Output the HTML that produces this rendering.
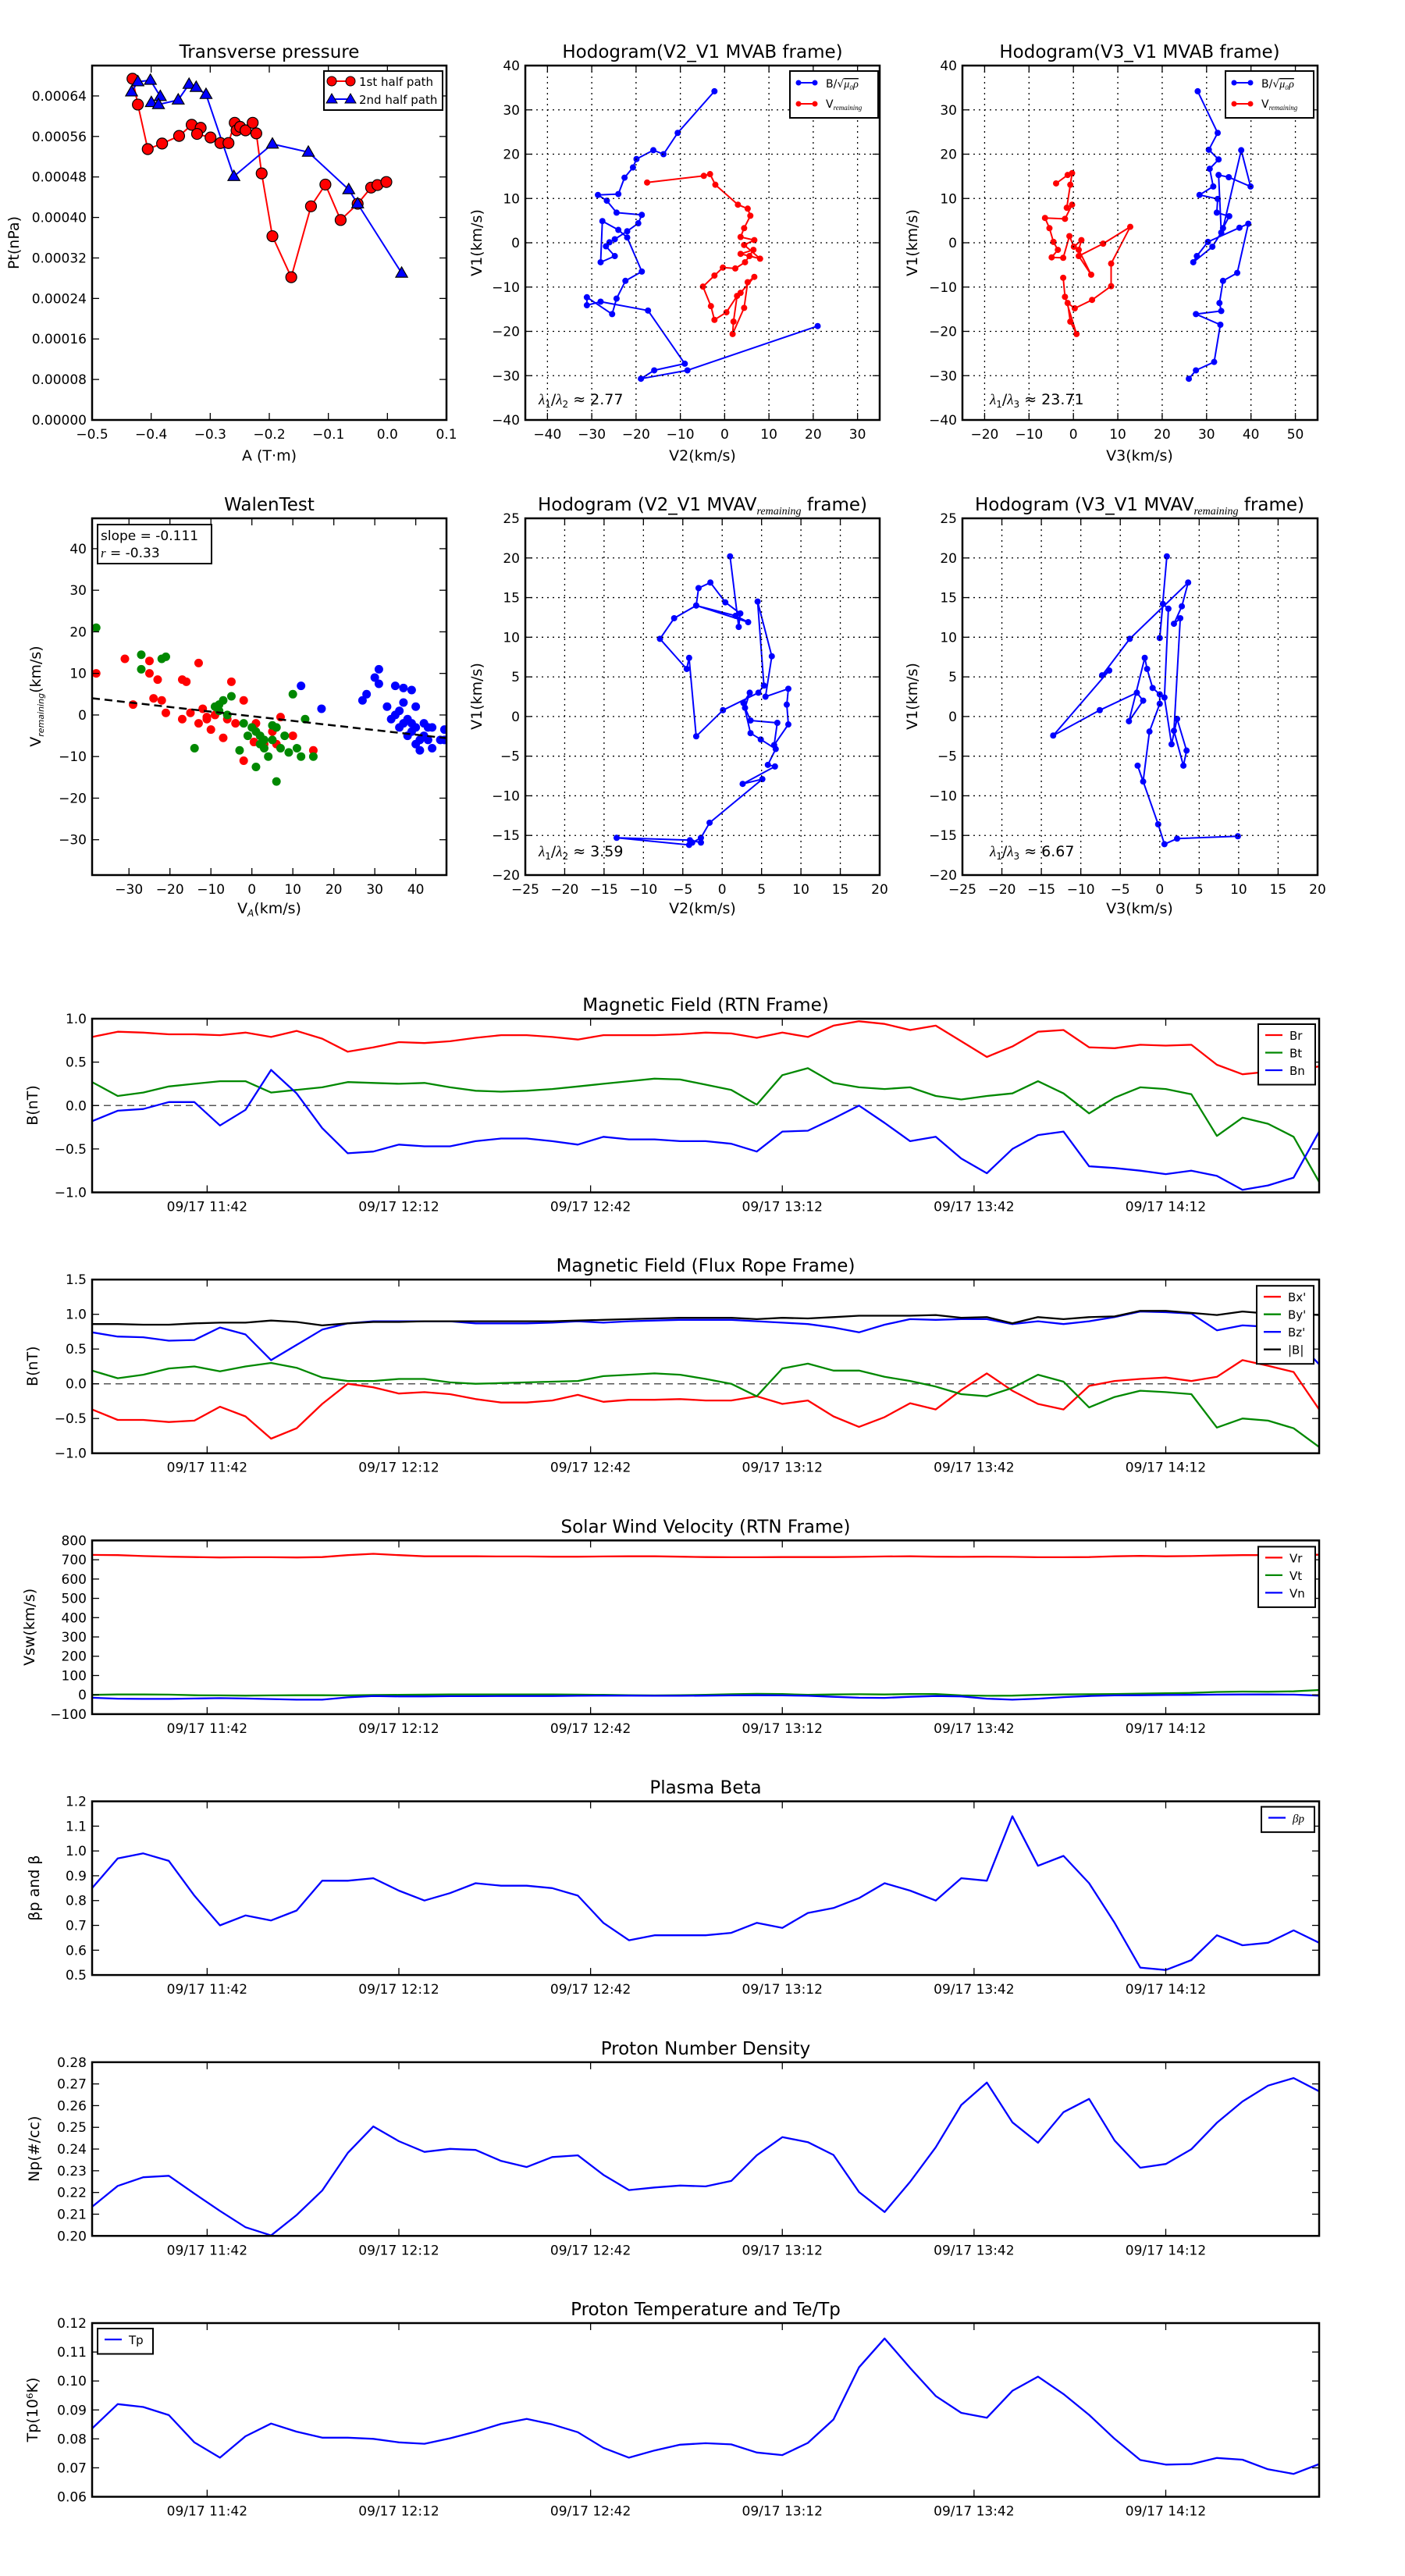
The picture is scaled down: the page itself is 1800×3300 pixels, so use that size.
<!DOCTYPE html>
<html><head><meta charset="utf-8"><title>Flux rope analysis</title>
<style>
html,body{margin:0;padding:0;background:#fff;}
svg{display:block;font-family:"DejaVu Sans","Liberation Sans",sans-serif;}
</style></head>
<body>
<svg id="fig" xmlns="http://www.w3.org/2000/svg" width="1800" height="3300" viewBox="0 0 1800 3300"></svg>
<script>
// ---------- time-series data (4-min cadence, 11:24 .. 14:36) ----------
const timeTickMinutes=[18,48,78,108,138,168];
const timeTickLabels=["09/17 11:42","09/17 12:12","09/17 12:42","09/17 13:12","09/17 13:42","09/17 14:12"];
const br=[0.79,0.85,0.84,0.82,0.82,0.81,0.84,0.79,0.86,0.77,0.62,0.67,0.73,0.72,0.74,0.78,0.81,0.81,0.79,0.76,0.81,0.81,0.81,0.82,0.84,0.83,0.78,0.84,0.79,0.92,0.97,0.94,0.87,0.92,0.74,0.56,0.68,0.85,0.87,0.67,0.66,0.70,0.69,0.70,0.47,0.36,0.39,0.41,0.45];
const bt=[0.27,0.11,0.15,0.22,0.25,0.28,0.28,0.15,0.18,0.21,0.27,0.26,0.25,0.26,0.21,0.17,0.16,0.17,0.19,0.22,0.25,0.28,0.31,0.30,0.24,0.18,0.01,0.35,0.43,0.26,0.21,0.19,0.21,0.11,0.07,0.11,0.14,0.28,0.14,-0.09,0.09,0.21,0.19,0.13,-0.35,-0.14,-0.21,-0.36,-0.88];
const bn=[-0.18,-0.06,-0.04,0.04,0.04,-0.23,-0.05,0.41,0.14,-0.26,-0.55,-0.53,-0.45,-0.47,-0.47,-0.41,-0.38,-0.38,-0.41,-0.45,-0.36,-0.39,-0.39,-0.41,-0.41,-0.44,-0.53,-0.30,-0.29,-0.15,0.0,-0.20,-0.41,-0.36,-0.61,-0.78,-0.50,-0.34,-0.30,-0.70,-0.72,-0.75,-0.79,-0.75,-0.81,-0.97,-0.92,-0.83,-0.30];
const bxp=[-0.37,-0.52,-0.52,-0.55,-0.53,-0.33,-0.47,-0.79,-0.64,-0.29,0.0,-0.05,-0.14,-0.12,-0.15,-0.22,-0.27,-0.27,-0.24,-0.16,-0.26,-0.23,-0.23,-0.22,-0.24,-0.24,-0.18,-0.29,-0.24,-0.47,-0.62,-0.48,-0.28,-0.37,-0.09,0.15,-0.10,-0.29,-0.37,-0.03,0.04,0.07,0.09,0.04,0.10,0.34,0.26,0.17,-0.37];
const byp=[0.19,0.08,0.13,0.22,0.25,0.18,0.25,0.30,0.23,0.09,0.04,0.04,0.07,0.07,0.02,0.0,0.01,0.02,0.03,0.04,0.11,0.13,0.15,0.13,0.07,0.0,-0.18,0.22,0.29,0.19,0.19,0.10,0.04,-0.04,-0.15,-0.18,-0.06,0.13,0.03,-0.34,-0.19,-0.10,-0.12,-0.15,-0.63,-0.50,-0.53,-0.64,-0.91];
const bzp=[0.74,0.68,0.67,0.62,0.63,0.81,0.71,0.34,0.56,0.78,0.87,0.90,0.90,0.90,0.90,0.87,0.87,0.87,0.88,0.90,0.88,0.90,0.91,0.92,0.92,0.92,0.90,0.88,0.86,0.81,0.74,0.85,0.93,0.92,0.93,0.93,0.86,0.90,0.86,0.90,0.96,1.04,1.03,1.01,0.77,0.84,0.82,0.67,0.28];
const bmag=[0.86,0.86,0.85,0.85,0.87,0.88,0.88,0.91,0.89,0.84,0.87,0.89,0.89,0.90,0.90,0.90,0.90,0.90,0.90,0.91,0.92,0.93,0.94,0.95,0.95,0.95,0.93,0.95,0.94,0.96,0.98,0.98,0.98,0.99,0.95,0.96,0.87,0.96,0.93,0.96,0.97,1.05,1.05,1.02,0.99,1.04,1.01,1.01,0.99];
const vr=[725,724,719,716,714,712,713,713,712,714,724,731,724,718,718,718,717,717,716,716,717,718,718,716,714,713,713,714,714,714,715,717,718,716,715,716,715,713,713,714,718,720,718,719,722,724,724,724,726];
const vt=[0,2,2,1,-2,-3,-4,-3,-2,-2,-3,-1,0,1,2,2,2,2,2,1,0,-2,-3,-2,0,3,5,4,0,2,3,2,4,4,-3,-5,-4,0,2,3,4,6,8,10,15,17,16,18,25];
const vn=[-15,-20,-21,-21,-19,-17,-19,-22,-25,-25,-13,-6,-8,-8,-7,-7,-6,-6,-6,-5,-4,-4,-5,-5,-4,-3,-2,-3,-5,-10,-15,-16,-10,-6,-8,-20,-25,-20,-12,-6,-3,-2,-1,0,1,2,2,1,-4];
const beta=[0.85,0.97,0.99,0.96,0.82,0.70,0.74,0.72,0.76,0.88,0.88,0.89,0.84,0.80,0.83,0.87,0.86,0.86,0.85,0.82,0.71,0.64,0.66,0.66,0.66,0.67,0.71,0.69,0.75,0.77,0.81,0.87,0.84,0.80,0.89,0.88,1.14,0.94,0.98,0.87,0.71,0.53,0.52,0.56,0.66,0.62,0.63,0.68,0.63];
const npd=[0.2134,0.223,0.227,0.2277,0.2195,0.2115,0.204,0.2002,0.2096,0.2209,0.2382,0.2504,0.2436,0.2387,0.2401,0.2396,0.2345,0.2317,0.2363,0.2371,0.2281,0.2211,0.2223,0.2232,0.2228,0.2253,0.2371,0.2455,0.2432,0.2373,0.2202,0.2110,0.2249,0.2408,0.2603,0.2706,0.2523,0.2429,0.2570,0.2631,0.2439,0.2314,0.2331,0.2399,0.2521,0.2619,0.2692,0.2727,0.2666];
const tp=[0.0836,0.092,0.091,0.0882,0.0788,0.0735,0.0809,0.0853,0.0825,0.0804,0.0804,0.080,0.0788,0.0783,0.0802,0.0825,0.0852,0.0869,0.085,0.0823,0.0769,0.0735,0.076,0.078,0.0785,0.0781,0.0753,0.0744,0.0786,0.0867,0.1047,0.1147,0.1045,0.0948,0.089,0.0873,0.0966,0.1015,0.0955,0.0883,0.080,0.0727,0.0711,0.0713,0.0734,0.0728,0.0695,0.0679,0.0713];

// ---------- scatter / hodogram data ----------
const ptRedA=[-0.4316,-0.4225,-0.4058,-0.3815,-0.3527,-0.3314,-0.3162,-0.3223,-0.2995,-0.2828,-0.2691,-0.2585,-0.2554,-0.2494,-0.2402,-0.2281,-0.222,-0.2129,-0.1947,-0.1628,-0.1294,-0.105,-0.0792,-0.0504,-0.0276,-0.0169,-0.0018];
const ptRedP=[0.000674,0.000623,0.000535,0.000546,0.000561,0.000583,0.000577,0.000565,0.000558,0.000547,0.000547,0.000587,0.000572,0.000579,0.000572,0.000587,0.000566,0.000487,0.000363,0.000282,0.000422,0.000465,0.000395,0.000427,0.000459,0.000464,0.00047];
const ptBlueA=[-0.4332,-0.4225,-0.4013,-0.3845,-0.3997,-0.3876,-0.3542,-0.3359,-0.3238,-0.3071,-0.26,-0.1947,-0.1339,-0.0655,-0.0504,0.0241];
const ptBlueP=[0.000648,0.000668,0.000671,0.000639,0.000627,0.000623,0.000632,0.000663,0.000657,0.000643,0.000481,0.000545,0.000529,0.000455,0.000427,0.000290];

const h2BlueX=[-2.3,-10.6,-13.8,-16.1,-19.9,-20.7,-22.6,-24.0,-28.6,-26.6,-24.4,-18.7,-19.5,-22.0,-24.8,-26.0,-26.8,-24.8,-28.0,-27.6,-24.0,-22.0,-18.7,-22.4,-24.4,-25.4,-31.1,-31.1,-28.0,-17.3,-9.0,-15.9,-18.9,-8.4,21.0];
const h2BlueY=[34.2,24.8,20.0,20.9,18.9,17.0,14.7,11.0,10.8,9.5,6.8,6.3,4.4,2.6,0.8,0.1,-0.8,-3.0,-4.4,4.9,2.9,1.2,-6.5,-8.6,-12.6,-16.1,-12.3,-14.1,-13.3,-15.3,-27.3,-28.8,-30.7,-28.8,-18.8];
const h2RedX=[-17.5,-4.7,-3.3,-2.1,3.0,5.2,5.8,4.4,3.6,6.7,4.4,8.0,5.6,3.6,6.5,4.6,2.4,-0.4,-2.3,-4.9,-3.1,-2.3,0.4,2.8,2.0,1.8,4.4,5.2,6.7,3.6];
const h2RedY=[13.6,15.1,15.5,13.1,8.6,7.7,6.1,3.3,1.3,0.6,-0.5,-3.6,-3.0,-2.5,-1.6,-4.4,-5.8,-5.6,-7.4,-9.9,-14.3,-17.4,-15.7,-12.0,-17.8,-20.6,-14.7,-8.9,-7.7,-11.3];

const h3BlueX=[28.0,32.5,30.5,32.7,30.7,31.5,28.4,32.5,32.3,35.1,33.7,37.8,39.9,35.0,32.7,33.3,31.3,27.0,27.8,30.3,37.4,39.4,36.9,33.7,32.9,33.3,27.6,33.1,31.7,27.6,26.0];
const h3BlueY=[34.2,24.8,21.0,18.8,16.7,12.7,10.8,9.9,6.8,6.0,3.3,20.9,12.7,14.8,15.3,2.3,-0.9,-4.4,-3.0,0.2,3.4,4.3,-6.8,-8.6,-13.6,-15.4,-16.1,-18.5,-26.9,-28.8,-30.7];
const h3RedX=[-3.9,-1.3,-0.3,-0.7,-1.5,-0.3,-1.9,-6.4,-5.4,-4.5,-3.5,-4.9,-2.3,-0.9,0.1,1.8,1.2,4.0,1.2,6.7,12.8,8.5,8.5,4.2,0.3,-1.3,-0.7,0.7,-1.9,-2.3];
const h3RedY=[13.4,15.3,15.7,13.1,7.9,8.6,5.4,5.6,3.3,0.2,-1.6,-3.3,-3.4,1.5,-0.9,0.6,-1.6,-7.2,-3.0,-0.2,3.6,-4.7,-9.8,-12.9,-14.8,-13.6,-17.8,-20.6,-12.2,-7.9];

const walRedX=[-38,-31,-29,-25,-25,-23,-24,-22,-21,-17,-16,-13,-17,-15,-13,-12,-11,-10,-11,-9,-6,-5,-4,-7,-2,-2,1,3,5,6,7,10,15,0.5];
const walRedY=[10,13.5,2.5,13,10,8.5,4,3.5,0.5,8.5,8,12.5,-1,0.5,-2,1.5,-0.5,-3.5,-1,0,-1,8,-2,-5.5,3.5,-11,-2,-7,-4,-7,-0.5,-5,-8.5,-6.5];
const walGreenX=[-38,-27,-27,-22,-21,-14,-8,-9,-7,-5,-8,-6,-3,-2,0,1,2,2,3,-1,1,4,5,6,6,7,8,9,10,11,12,13,15,5,3];
const walGreenY=[21,14.5,11,13.5,14,-8,2.5,2,3.5,4.5,1,0,-8.5,-2,-3,-4,-7,-5,-6,-5,-12.5,-10,-6,-16,-3,-8,-5,-9,5,-8,-10,-1,-10,-2.5,-8];
const walBlueX=[12,17,27,28,30,31,31,33,35,35,36,37,37,37,38,38,39,39,40,40,40,41,41,42,42,43,43,44,44,46,47,47,34,36,39];
const walBlueY=[7,1.5,3.5,5,9,11,7.5,2,7,0,1,-2,6.5,3,-1,-5,-4,6,-7,2,-3,-6,-8.5,-2,-5,-6,-3,-8,-3,-6,-3.5,-6,-1,-3,-2];
const walenSlope=-0.111, walenIntercept=-0.3;

const h5X=[1.0,2.1,2.3,0.4,-1.5,-3.0,-3.3,3.3,1.7,-3.3,-6.1,-7.9,-4.5,-4.2,-3.3,0.1,4.6,5.3,4.5,6.3,5.5,8.4,8.2,8.4,6.6,7.0,3.6,2.9,3.5,2.7,3.6,4.9,6.8,5.8,6.7,2.6,5.1,-1.6,-2.7,-3.8,-4.2,-13.4,-4.1,-2.7];
const h5Y=[20.2,11.3,13.0,14.4,16.9,16.2,14.0,11.9,12.7,14.0,12.4,9.8,6.0,7.4,-2.5,0.8,3.0,3.9,14.5,7.6,2.5,3.5,1.5,-1.0,-3.6,-0.8,-0.5,1.1,3.0,1.7,-2.1,-2.9,-4.1,-6.1,-6.3,-8.5,-7.9,-13.4,-15.3,-15.9,-16.2,-15.3,-15.6,-15.9];
const h6X=[0.9,0.0,0.4,1.1,0.6,1.5,2.2,3.4,3.0,1.8,2.6,1.8,2.8,3.6,-3.8,-7.3,-6.4,-13.5,-7.6,-2.9,-2.1,-3.9,-1.9,-1.6,-0.9,0.0,0.0,-1.3,-2.1,-2.8,-0.2,0.6,2.2,9.9];
const h6Y=[20.2,9.9,14.2,13.6,2.4,-3.5,-0.3,-4.3,-6.2,-1.8,12.4,11.7,13.9,16.9,9.8,5.2,5.8,-2.4,0.8,3.0,2.0,-0.6,7.4,6.0,3.6,2.8,1.6,-1.9,-8.2,-6.2,-13.6,-16.1,-15.4,-15.1];

// ---------- helpers ----------
const NS="http://www.w3.org/2000/svg";
const svg=document.getElementById('fig');
let clipId=0;
function mk(tag,attrs,parent){const e=document.createElementNS(NS,tag);for(const k in attrs)e.setAttribute(k,attrs[k]);(parent||svg).appendChild(e);return e;}
function fmt(v,d){const s=Math.abs(v).toFixed(d);return (v<-1e-12?"\u2212":"")+s;}
function txt(x,y,s,size,anchor,parent,extra){const t=mk('text',Object.assign({x:x,y:y,'font-size':size,'text-anchor':anchor||'middle',fill:'#000'},extra||{}),parent);t.textContent=s;return t;}

function makeAxes(name,x0,y0,x1,y1,xmin,xmax,ymin,ymax){
  const g=mk('g',{});
  
  
  const id='clip'+(clipId++);
  const cp=mk('clipPath',{id:id},g);mk('rect',{x:x0,y:y0,width:x1-x0,height:y1-y0},cp);
  const plot=mk('g',{'clip-path':'url(#'+id+')'},g);
  const ax={g:g,plot:plot,x0:x0,y0:y0,x1:x1,y1:y1,
    sx:v=>x0+(v-xmin)/(xmax-xmin)*(x1-x0),
    sy:v=>y1-(v-ymin)/(ymax-ymin)*(y1-y0)};
  return ax;
}
function frame(ax){const r=mk('rect',{x:ax.x0,y:ax.y0,width:ax.x1-ax.x0,height:ax.y1-ax.y0,fill:'none',stroke:'#000','stroke-width':2.5},ax.g);
  
  }
function xTicks(ax,vals,labels,size,grid){
  vals.forEach((v,i)=>{const x=ax.sx(v);
    if(grid){mk('line',{x1:x,x2:x,y1:ax.y0,y2:ax.y1,stroke:'#000','stroke-width':1.3,'stroke-dasharray':'2,5'},ax.g);}
    mk('line',{x1:x,x2:x,y1:ax.y1,y2:ax.y1-9,stroke:'#000','stroke-width':1.3},ax.g);
    mk('line',{x1:x,x2:x,y1:ax.y0,y2:ax.y0+9,stroke:'#000','stroke-width':1.3},ax.g);
    const t=txt(x,ax.y1+24,labels[i],size,'middle',ax.g);
    
    });
}
function yTicks(ax,vals,labels,size,grid){
  vals.forEach((v,i)=>{const y=ax.sy(v);
    if(grid){mk('line',{x1:ax.x0,x2:ax.x1,y1:y,y2:y,stroke:'#000','stroke-width':1.3,'stroke-dasharray':'2,5'},ax.g);}
    mk('line',{x1:ax.x0,x2:ax.x0+9,y1:y,y2:y,stroke:'#000','stroke-width':1.3},ax.g);
    mk('line',{x1:ax.x1,x2:ax.x1-9,y1:y,y2:y,stroke:'#000','stroke-width':1.3},ax.g);
    const t=txt(ax.x0-7,y+6,labels[i],size,'end',ax.g);
    
    });
}
function line(ax,xs,ys,color,w,name){
  const d=xs.map((x,i)=>(i?'L':'M')+ax.sx(x).toFixed(1)+','+ax.sy(ys[i]).toFixed(1)).join('');
  const p=mk('path',{d:d,fill:'none',stroke:color,'stroke-width':w,'stroke-linejoin':'round'},ax.plot);
  
  
  return p;
}
function dots(ax,xs,ys,color,r,name,edge){
  xs.forEach((x,i)=>{const c=mk('circle',{cx:ax.sx(x),cy:ax.sy(ys[i]),r:r,fill:color,stroke:edge||color,'stroke-width':edge?1.2:0},ax.plot);
    
    });
}
function tris(ax,xs,ys,color,s,name){
  xs.forEach((x,i)=>{const cx=ax.sx(x),cy=ax.sy(ys[i]);
    const p=mk('polygon',{points:`${cx},${cy-s} ${cx-s*0.95},${cy+s*0.65} ${cx+s*0.95},${cy+s*0.65}`,fill:color,stroke:'#000','stroke-width':1.2},ax.plot);
    
    });
}
function title(x,y,s,name){const t=txt(x,y,s,23,'middle');return t;}
function ylab(x,y,s,name,size){const t=txt(0,0,s,size||19,'middle',svg,{transform:`translate(${x},${y}) rotate(-90)`});return t;}
function xlab(x,y,s,name){const t=txt(x,y,s,19,'middle');return t;}
function range(a,b,s){const r=[];for(let v=a;v<=b+1e-9;v+=s)r.push(+v.toFixed(6));return r;}

// ---------- Panel 1: Transverse pressure ----------
(function(){
  const ax=makeAxes('transverse-pressure-plot',118,84,572,538,-0.5,0.1,0,0.0007);
  line(ax,ptRedA,ptRedP,'#f00',2,'first-half-path-line');
  line(ax,ptBlueA,ptBlueP,'#00f',2,'second-half-path-line');
  dots(ax,ptRedA,ptRedP,'#f00',7,'first-half-point','#000');
  tris(ax,ptBlueA,ptBlueP,'#00f',8,'second-half-point');
  frame(ax);
  const xt=range(-0.5,0.1,0.1);xTicks(ax,xt,xt.map(v=>fmt(v,1)),17);
  const yt=range(0,0.00064,0.00008);yTicks(ax,yt,yt.map(v=>fmt(v,5)),17);
  title(345,74,'Transverse pressure','transverse-pressure-title');
  xlab(345,590,'A (T\u00b7m)','transverse-pressure-x-label');
  ylab(24,311,'Pt(nPa)','transverse-pressure-y-label');
  const lg=mk('g',{});
  mk('rect',{x:415,y:91,width:152,height:50,fill:'#fff',stroke:'#000','stroke-width':2},lg);
  mk('line',{x1:425,x2:449,y1:104,y2:104,stroke:'#f00','stroke-width':2},lg);
  mk('circle',{cx:425,cy:104,r:6,fill:'#f00',stroke:'#000'},lg);mk('circle',{cx:449,cy:104,r:6,fill:'#f00',stroke:'#000'},lg);
  txt(460,110,'1st half path',15,'start',lg);
  mk('line',{x1:425,x2:449,y1:127,y2:127,stroke:'#00f','stroke-width':2},lg);
  mk('polygon',{points:'425,120 418,132 432,132',fill:'#00f',stroke:'#000'},lg);mk('polygon',{points:'449,120 442,132 456,132',fill:'#00f',stroke:'#000'},lg);
  txt(460,133,'2nd half path',15,'start',lg);
})();

function hodoLegend(x,name,lab1){
  const lg=mk('g',{});
  mk('rect',{x:x,y:91,width:113,height:60,fill:'#fff',stroke:'#000','stroke-width':2},lg);
  mk('line',{x1:x+11,x2:x+32,y1:106,y2:106,stroke:'#00f','stroke-width':2},lg);
  mk('circle',{cx:x+11,cy:106,r:3.5,fill:'#00f'},lg);mk('circle',{cx:x+32,cy:106,r:3.5,fill:'#00f'},lg);
  const t1=txt(x+46,112,'B/\u221a',14,'start',lg);const s1=mk('tspan',{'font-style':'italic','font-family':'Liberation Serif, serif','text-decoration':'overline'},t1);s1.textContent='\u03bc\u2080\u03c1';
  mk('line',{x1:x+11,x2:x+32,y1:133,y2:133,stroke:'#f00','stroke-width':2},lg);
  mk('circle',{cx:x+11,cy:133,r:3.5,fill:'#f00'},lg);mk('circle',{cx:x+32,cy:133,r:3.5,fill:'#f00'},lg);
  const t2=txt(x+46,138,'V',14,'start',lg);const s2=mk('tspan',{'font-size':9,'font-style':'italic','font-family':'Liberation Serif, serif',dy:3},t2);s2.textContent='remaining';
}
function lambdaNote(x,y,a,b,val,name){
  const t=txt(x,y,'',19,'start');
  const parts=[['\u03bb','i'],[a,'s'],['/','n'],['\u03bb','i'],[b,'s'],[' \u2248 '+val,'n']];
  parts.forEach(p=>{const s=mk('tspan',{},t);s.textContent=p[0];
    if(p[1]==='i'){s.setAttribute('font-style','italic');s.setAttribute('font-family','Liberation Serif, serif');}
    if(p[1]==='s'){s.setAttribute('font-size',12);s.setAttribute('dy',4);}
    if(p[1]==='n'&&p[0]!=='/'){s.setAttribute('dy',-4);}
    if(p[0]==='/'){s.setAttribute('dy',-4);}
  });
}

// ---------- Panel 2 ----------
(function(){
  const ax=makeAxes('hodogram-v2-v1-mvab-plot',673,84,1127,538,-45,35,-40,40);
  const xt=range(-40,30,10),yt=range(-40,40,10);
  xTicks(ax,xt,xt.map(v=>fmt(v,0)),17,true);yTicks(ax,yt,yt.map(v=>fmt(v,0)),17,true);
  line(ax,h2BlueX,h2BlueY,'#00f',2,'b-hodogram-line');dots(ax,h2BlueX,h2BlueY,'#00f',4,'b-hodogram-point');
  line(ax,h2RedX,h2RedY,'#f00',2,'v-hodogram-line');dots(ax,h2RedX,h2RedY,'#f00',4,'v-hodogram-point');
  frame(ax);
  title(900,74,'Hodogram(V2_V1 MVAB frame)','hodogram-v2-mvab-title');
  xlab(900,590,'V2(km/s)','hodogram-v2-mvab-x-label');ylab(617,311,'V1(km/s)','hodogram-v2-mvab-y-label');
  hodoLegend(1012,'hodogram-v2-mvab-legend');
  lambdaNote(690,518,'1','2','2.77','eigen-ratio-v2-mvab');
})();
// ---------- Panel 3 ----------
(function(){
  const ax=makeAxes('hodogram-v3-v1-mvab-plot',1233,84,1688,538,-25,55,-40,40);
  const xt=range(-20,50,10),yt=range(-40,40,10);
  xTicks(ax,xt,xt.map(v=>fmt(v,0)),17,true);yTicks(ax,yt,yt.map(v=>fmt(v,0)),17,true);
  line(ax,h3BlueX,h3BlueY,'#00f',2,'b-hodogram-line');dots(ax,h3BlueX,h3BlueY,'#00f',4,'b-hodogram-point');
  line(ax,h3RedX,h3RedY,'#f00',2,'v-hodogram-line');dots(ax,h3RedX,h3RedY,'#f00',4,'v-hodogram-point');
  frame(ax);
  title(1460,74,'Hodogram(V3_V1 MVAB frame)','hodogram-v3-mvab-title');
  xlab(1460,590,'V3(km/s)','hodogram-v3-mvab-x-label');ylab(1175,311,'V1(km/s)','hodogram-v3-mvab-y-label');
  hodoLegend(1570,'hodogram-v3-mvab-legend');
  lambdaNote(1268,518,'1','3','23.71','eigen-ratio-v3-mvab');
})();
// ---------- Panel 4: Walen test ----------
(function(){
  const ax=makeAxes('walen-test-plot',118,664,572,1121,-39,47.5,-38.5,47.3);
  const xt=range(-30,40,10),yt=range(-30,40,10);
  xTicks(ax,xt,xt.map(v=>fmt(v,0)),17);yTicks(ax,yt,yt.map(v=>fmt(v,0)),17);
  dots(ax,walRedX,walRedY,'#f00',5.5,'walen-point-red');
  dots(ax,walGreenX,walGreenY,'#080',5.5,'walen-point-green');
  dots(ax,walBlueX,walBlueY,'#00f',5.5,'walen-point-blue');
  const fx=[-39,47.5];const fy=fx.map(v=>walenSlope*v+walenIntercept);
  const p=line(ax,fx,fy,'#000',2.5,'walen-fit-line');p.setAttribute('stroke-dasharray','10,6');
  frame(ax);
  title(345,654,'WalenTest','walen-title');
  const xl=xlab(345,1170,'V','walen-x-label');const s=mk('tspan',{'font-size':12,'font-style':'italic',dy:4},xl);s.textContent='A';const s2=mk('tspan',{dy:-4},xl);s2.textContent='(km/s)';
  const yl=ylab(52,892,'V','walen-y-label');const s3=mk('tspan',{'font-size':11,'font-style':'italic',dy:4},yl);s3.textContent='remaining';const s4=mk('tspan',{dy:-4},yl);s4.textContent='(km/s)';
  const bx=mk('g',{});
  mk('rect',{x:125,y:672,width:146,height:50,fill:'#fff',stroke:'#000','stroke-width':2},bx);
  txt(129,692,'slope = -0.111',17,'start',bx);
  const r=txt(129,714,'',17,'start',bx);const ri=mk('tspan',{'font-style':'italic','font-family':'Liberation Serif, serif'},r);ri.textContent='r';const rr=mk('tspan',{},r);rr.textContent=' = -0.33';
})();
// ---------- Panel 5 ----------
(function(){
  const ax=makeAxes('hodogram-v2-v1-mvav-plot',673,664,1127,1121,-25,20,-20,25);
  const xt=range(-25,20,5),yt=range(-20,25,5);
  xTicks(ax,xt,xt.map(v=>fmt(v,0)),17,true);yTicks(ax,yt,yt.map(v=>fmt(v,0)),17,true);
  line(ax,h5X,h5Y,'#00f',2,'b-hodogram-line');dots(ax,h5X,h5Y,'#00f',4,'b-hodogram-point');
  frame(ax);
  const t=title(900,654,'Hodogram (V2_V1 MVAV','hodogram-v2-mvav-title');const s=mk('tspan',{'font-size':14,'font-style':'italic','font-family':'Liberation Serif, serif',dy:5},t);s.textContent='remaining';const s2=mk('tspan',{dy:-5},t);s2.textContent=' frame)';
  xlab(900,1170,'V2(km/s)','hodogram-v2-mvav-x-label');ylab(617,892,'V1(km/s)','hodogram-v2-mvav-y-label');
  lambdaNote(690,1097,'1','2','3.59','eigen-ratio-v2-mvav');
})();
// ---------- Panel 6 ----------
(function(){
  const ax=makeAxes('hodogram-v3-v1-mvav-plot',1233,664,1688,1121,-25,20,-20,25);
  const xt=range(-25,20,5),yt=range(-20,25,5);
  xTicks(ax,xt,xt.map(v=>fmt(v,0)),17,true);yTicks(ax,yt,yt.map(v=>fmt(v,0)),17,true);
  line(ax,h6X,h6Y,'#00f',2,'b-hodogram-line');dots(ax,h6X,h6Y,'#00f',4,'b-hodogram-point');
  frame(ax);
  const t=title(1460,654,'Hodogram (V3_V1 MVAV','hodogram-v3-mvav-title');const s=mk('tspan',{'font-size':14,'font-style':'italic','font-family':'Liberation Serif, serif',dy:5},t);s.textContent='remaining';const s2=mk('tspan',{dy:-5},t);s2.textContent=' frame)';
  xlab(1460,1170,'V3(km/s)','hodogram-v3-mvav-x-label');ylab(1175,892,'V1(km/s)','hodogram-v3-mvav-y-label');
  lambdaNote(1268,1097,'1','3','6.67','eigen-ratio-v3-mvav');
})();

// ---------- time series ----------
const tMin=br.map((_,i)=>i*4);
function tsPanel(k,name,ttl,ymin,ymax,ytv,dec,series,legend,ylabel,zero){
  const top=1305+k*334.2,bot=top+222.5;
  const ax=makeAxes(name,118,top,1690,bot,0,192,ymin,ymax);
  xTicks(ax,timeTickMinutes,timeTickLabels,17);
  yTicks(ax,ytv,ytv.map(v=>fmt(v,dec)),17);
  if(zero){const z=mk('line',{x1:118,x2:1690,y1:ax.sy(0),y2:ax.sy(0),stroke:'#555','stroke-width':1.5,'stroke-dasharray':'9,6'},ax.plot);
    
    }
  series.forEach(s=>line(ax,tMin,s.v,s.c,2.3,s.n));
  frame(ax);
  title(904,top-10,ttl,name+'-title');
  ylab(ylabel.x,top+111,ylabel.t,name+'-y-label');
  if(legend){
    const lg=mk('g',{});
    const lx=legend.x,ly=top+legend.dy,h=legend.items.length*22.5+10,w=legend.w||73;
    mk('rect',{x:lx,y:ly,width:w,height:h,fill:'#fff',stroke:'#000','stroke-width':2},lg);
    legend.items.forEach((it,i)=>{const yy=ly+14+i*22.5;
      mk('line',{x1:lx+9,x2:lx+31,y1:yy,y2:yy,stroke:it.c,'stroke-width':2.3},lg);
      txt(lx+40,yy+6,it.t,15,'start',lg,it.it?{'font-style':'italic','font-family':'Liberation Serif, serif'}:{});});
  }
  return ax;
}
tsPanel(0,'magnetic-field-rtn-plot','Magnetic Field (RTN Frame)',-1,1,range(-1,1,0.5),1,
 [{v:br,c:'#f00',n:'br-line'},{v:bt,c:'#080',n:'bt-line'},{v:bn,c:'#00f',n:'bn-line'}],
 {x:1612,dy:7,items:[{t:'Br',c:'#f00'},{t:'Bt',c:'#080'},{t:'Bn',c:'#00f'}]},{x:48,t:'B(nT)'},true);
tsPanel(1,'magnetic-field-flux-rope-plot','Magnetic Field (Flux Rope Frame)',-1,1.5,range(-1,1.5,0.5),1,
 [{v:bxp,c:'#f00',n:'bx-line'},{v:byp,c:'#080',n:'by-line'},{v:bzp,c:'#00f',n:'bz-line'},{v:bmag,c:'#000',n:'bmag-line'}],
 {x:1610,dy:8,items:[{t:"Bx'",c:'#f00'},{t:"By'",c:'#080'},{t:"Bz'",c:'#00f'},{t:'|B|',c:'#000'}]},{x:48,t:'B(nT)'},true);
tsPanel(2,'solar-wind-velocity-plot','Solar Wind Velocity (RTN Frame)',-100,800,range(-100,800,100),0,
 [{v:vr,c:'#f00',n:'vr-line'},{v:vt,c:'#080',n:'vt-line'},{v:vn,c:'#00f',n:'vn-line'}],
 {x:1612,dy:8,items:[{t:'Vr',c:'#f00'},{t:'Vt',c:'#080'},{t:'Vn',c:'#00f'}]},{x:44,t:'Vsw(km/s)'},false);
tsPanel(3,'plasma-beta-plot','Plasma Beta',0.5,1.2,range(0.5,1.2,0.1),1,
 [{v:beta,c:'#00f',n:'beta-line'}],
 {x:1616,dy:7,w:68,items:[{t:'\u03b2p',c:'#00f',it:true}]},{x:50,t:'\u03b2p and \u03b2'},false);
tsPanel(4,'proton-density-plot','Proton Number Density',0.20,0.28,range(0.20,0.28,0.01),2,
 [{v:npd,c:'#00f',n:'density-line'}],null,{x:50,t:'Np(#/cc)'},false);
tsPanel(5,'proton-temperature-plot','Proton Temperature and Te/Tp',0.06,0.12,range(0.06,0.12,0.01),2,
 [{v:tp,c:'#00f',n:'tp-line'}],
 {x:125,dy:7,w:71,items:[{t:'Tp',c:'#00f'}]},{x:48,t:'Tp(10\u2076K)'},false);
</script>
</body></html>
